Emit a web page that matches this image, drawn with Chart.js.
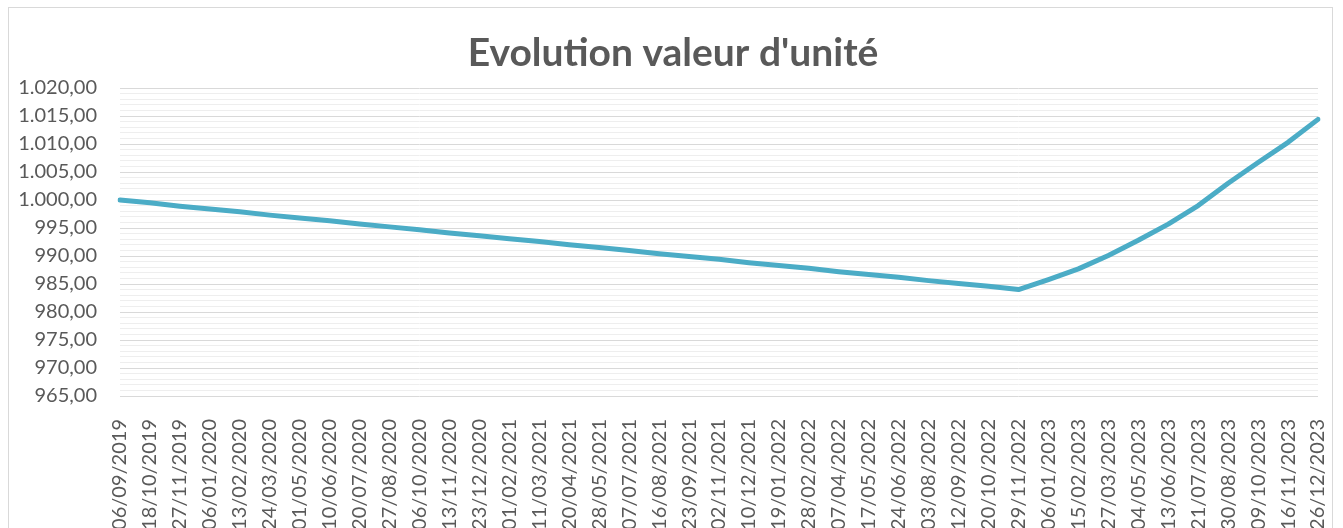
<!DOCTYPE html>
<html lang="fr">
<head>
    <meta charset="UTF-8">
    <title>Evolution valeur d'unité</title>
    <script src="https://cdn.jsdelivr.net/npm/chart.js"></script>
    <style>
        html, body { margin: 0; padding: 0; background: #fff; overflow: hidden; }
        .frame { position: absolute; left: 8px; top: 7px; width: 1325px; height: 560px; border: 1px solid #d9d9d9; box-sizing: border-box; }
        .wrap { position: absolute; left: 0; top: 0; width: 1343px; height: 528px; }
    </style>
</head>
<body>
    <div class="frame"></div>
    <div class="wrap"><canvas id="chart"></canvas></div>

    <script>
        // dates affichées sur l'axe (une par point)
        const dates = [
            "06/09/2019", "18/10/2019", "27/11/2019", "06/01/2020", "13/02/2020", "24/03/2020",
            "01/05/2020", "10/06/2020", "20/07/2020", "27/08/2020", "06/10/2020", "13/11/2020",
            "23/12/2020", "01/02/2021", "11/03/2021", "20/04/2021", "28/05/2021", "07/07/2021",
            "16/08/2021", "23/09/2021", "02/11/2021", "10/12/2021", "19/01/2022", "28/02/2022",
            "07/04/2022", "17/05/2022", "24/06/2022", "03/08/2022", "12/09/2022", "20/10/2022",
            "29/11/2022", "06/01/2023", "15/02/2023", "27/03/2023", "04/05/2023", "13/06/2023",
            "21/07/2023", "30/08/2023", "09/10/2023", "16/11/2023", "26/12/2023"
        ];

        // valeur d'unité
        const valeurs = [
            1000.0, 999.5, 998.9, 998.4, 997.9, 997.3,
            996.8, 996.3, 995.7, 995.2, 994.7, 994.1,
            993.6, 993.1, 992.6, 992.0, 991.5, 991.0,
            990.4, 989.9, 989.4, 988.8, 988.3, 987.8,
            987.2, 986.7, 986.2, 985.6, 985.1, 984.6,
            984.0, 985.8, 987.7, 990.1, 992.8, 995.7,
            999.0, 1003.0, 1006.7, 1010.3, 1014.4
        ];

        const titre = "Evolution valeur d'unité";
        const yMin = 965;
        const yMax = 1020;

        function fmt(v) {
            let parts = v.toFixed(2).split(".");
            let ent = parts[0].replace(/\B(?=(\d{3})+(?!\d))/g, ".");
            return ent + "," + parts[1];
        }

        // titre dessiné à la main pour le centrer sur toute la largeur
        const titlePlugin = {
            id: "titreCentre",
            afterDraw(chart) {
                const ctx = chart.ctx;
                ctx.save();
                ctx.font = "bold 39px Lato";
                ctx.fillStyle = "#595959";
                ctx.textAlign = "center";
                ctx.textBaseline = "alphabetic";
                ctx.fillText(titre, 673, 66);
                ctx.restore();
            }
        };

        const canvas = document.getElementById("chart");
        canvas.width = 1343;
        canvas.height = 528;

        new Chart(canvas.getContext("2d"), {
            type: "line",
            data: {
                labels: dates,
                datasets: [{
                    label: "Valeur d'unité",
                    data: valeurs,
                    borderColor: "#4bacc6",
                    borderWidth: 5,
                    pointRadius: 0,
                    tension: 0,
                    borderCapStyle: "round",
                    borderJoinStyle: "round",
                    fill: false
                }]
            },
            options: {
                responsive: false,
                animation: false,
                layout: { padding: { left: 0, right: 25, top: 88, bottom: 0 } },
                plugins: {
                    legend: { display: false },
                    tooltip: { enabled: false },
                    title: { display: false }
                },
                scales: {
                    x: {
                        grid: { display: false },
                        border: { display: false },
                        ticks: {
                            autoSkip: false,
                            maxRotation: 90,
                            minRotation: 90,
                            padding: 15,
                            color: "#595959",
                            font: { family: "Lato", size: 20 }
                        },
                        afterFit: (scale) => {
                            scale.height = 132;
                            scale.paddingLeft = 0;
                            scale.paddingRight = 0;
                        }
                    },
                    y: {
                        min: yMin,
                        max: yMax,
                        border: { display: false },
                        grid: {
                            drawTicks: false,
                            lineWidth: 1,
                            color: (ctx) => (ctx.tick && ctx.tick.value % 5 === 0) ? "#d9d9d9" : "#eeeeee"
                        },
                        ticks: {
                            stepSize: 1,
                            autoSkip: false,
                            padding: 23,
                            color: "#595959",
                            font: { family: "Lato", size: 20 },
                            callback: (v) => v % 5 === 0 ? fmt(v) : ""
                        },
                        afterFit: (scale) => { scale.width = 120; }
                    }
                }
            },
            plugins: [titlePlugin]
        });
    </script>
</body>
</html>
